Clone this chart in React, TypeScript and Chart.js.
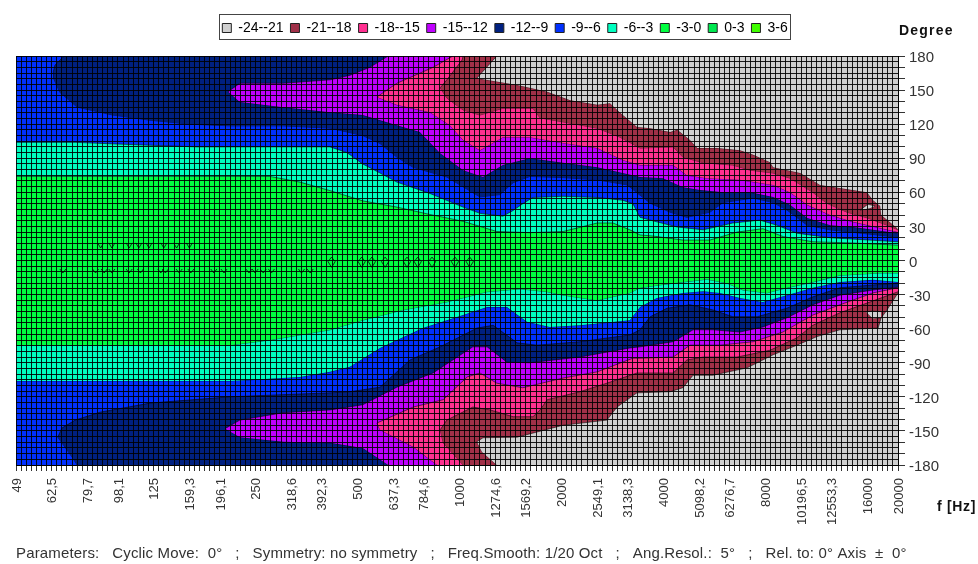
import React, { useEffect, useRef } from "react";
import { Chart, registerables } from "chart.js";

Chart.register(...registerables);

// x values are 1/20-octave frequency bins (bin 0 = 49 Hz, bin 173 = 20000 Hz)
const freqBins = [0, 7, 14, 20, 27, 34, 40, 47, 54, 60, 67, 74, 80, 87, 94, 100, 107, 114, 120, 127, 134, 140, 147, 154, 160, 167, 173];
const freqLabels = ["49", "62,5", "79,7", "98,1", "125", "159,3", "196,1", "250", "318,6", "392,3", "500", "637,3", "784,6", "1000", "1274,6", "1569,2", "2000", "2549,1", "3138,3", "4000", "5098,2", "6276,7", "8000", "10196,5", "12553,3", "16000", "20000"];

const legendNames = ["-24--21", "-21--18", "-18--15", "-15--12", "-12--9", "-9--6", "-6--3", "-3-0", "0-3", "3-6"];
const legendColors = ["#D0D0D0", "#A03048", "#FF3090", "#C000FF", "#002080", "#0030FF", "#00FFC0", "#00FF40", "#00E850", "#40FF00"];

const topEdge = [[0, 180], [173, 180]];
const bottomEdge = [[0, -180], [173, -180]];

const greenTop = [[0, 74], [7.3, 74], [20, 74], [33.5, 74], [49.8, 74], [55.7, 69], [61.6, 61.5], [68, 52.5], [74.7, 47], [81.2, 40.5], [87.7, 34.5], [94.3, 25.5], [100.8, 24.5], [107.3, 25.5], [114, 33], [117.1, 33], [120.4, 27], [122.4, 22.5], [125, 21.5], [130.8, 18], [136.1, 18], [141.4, 25], [146.5, 28], [150.5, 21], [156.3, 16.5], [163.6, 15.5], [173, 13.5]];
const greenLow = [[0, -74.5], [42, -74.5], [49.8, -70], [55.7, -65.5], [61.6, -61], [68, -52.5], [75.9, -43.5], [84.5, -36.5], [92.4, -27.5], [98.9, -25], [104.2, -27.5], [107.3, -30.5], [114, -35], [120.4, -28.5], [122.4, -24], [126.3, -21.5], [130.8, -19], [135.5, -16.5], [139.5, -20], [142.6, -26], [147.3, -28.5], [151.2, -24], [156.3, -19], [161.6, -13], [169.5, -11], [173, -11]];

const cyanTop = [[0, 104], [11.6, 104], [19.8, 102.5], [35.5, 100], [61.6, 100], [64.9, 95], [68, 85], [71.4, 77], [74.7, 69], [81.2, 59], [87.7, 47], [91, 41.5], [95.5, 39], [97.5, 44], [99.4, 50], [101.4, 55.5], [107.3, 56.5], [114, 55.5], [119, 53], [121, 50], [122.4, 38], [125.7, 34], [129.7, 29.5], [134.8, 27], [140.6, 33], [145.9, 35.5], [149.3, 31], [153.2, 24], [159.7, 20], [173, 16.5]];
const cyanLow = [[0, -106], [42, -106], [55.7, -102.5], [61.6, -98], [65.5, -93.5], [71.4, -77], [79.8, -59.5], [87.7, -48], [92.4, -41], [96.3, -41], [100.2, -54], [104.7, -58.5], [110.6, -57], [120.4, -52.5], [122.4, -41], [125.7, -33], [130.8, -28.5], [134.8, -27], [138.1, -28.5], [142, -33], [146.5, -36.5], [151.2, -30.5], [156.3, -24], [161.6, -19], [168.1, -17], [173, -19]];

const navyTopUpper = [[7.3, 166], [7.65, 172], [9.2, 179], [9.6, 180], [173, 180]];
const navyTopLower = [[7.3, 166], [7.4, 160], [8.6, 148], [12, 135], [19, 128], [26.3, 123.5], [34.1, 120], [42, 118.5], [52.4, 118.5], [61.6, 116.5], [68, 110], [71.4, 103], [74.7, 91], [77.9, 82], [84.5, 73.5], [91, 56], [94.9, 58], [97.5, 68.5], [100.8, 74], [107.3, 73], [114, 71], [119.9, 66.5], [122.4, 57.5], [124.4, 50.5], [128.3, 42.5], [131.6, 38], [136.1, 42.5], [138.7, 51], [144.6, 55], [148.5, 51], [151.2, 44.5], [155.2, 31], [159.7, 27], [173, 20.5]];
const navyLowUpper = [[8.2, -155.5], [9, -147.5], [11.6, -140.5], [16.5, -133.5], [26.3, -125.5], [42, -120], [55.7, -117.5], [61.6, -116.5], [65.5, -115.5], [71.4, -111.5], [77.3, -87.5], [83.2, -76], [90.4, -59.5], [93.6, -57], [98.3, -72.5], [102.2, -74.5], [110.6, -71.5], [120.4, -65.5], [122.4, -61], [124.4, -49.5], [127.7, -42], [132.2, -39], [136.7, -43.5], [140.6, -49.5], [145.4, -49.5], [151.2, -42], [156.3, -32], [161.6, -24], [168.1, -21.5], [173, -20]];
const navyLowLower = [[8.2, -155.5], [8.6, -158], [11, -173], [12, -180], [173, -180]];

const purpleTopUpper = [[41.6, 148.5], [43.9, 156], [52.4, 156], [61.6, 159], [65.5, 163], [69.4, 170], [73, 180], [173, 180]];
const purpleTopLower = [[41.6, 148.5], [43.9, 139.5], [52.4, 135], [61.6, 130.5], [68, 128], [74.7, 119], [79.2, 113], [83.2, 94.5], [87.7, 79.5], [91.6, 73.5], [95.5, 84], [100.8, 90], [107.3, 86], [114, 82], [122.4, 73.5], [126.9, 72.5], [130.8, 64.5], [134.2, 62], [138.7, 60], [144, 60], [148.5, 56], [151.8, 49], [155.2, 37.5], [159.7, 31], [164.2, 29.5], [173, 24]];
const purpleLowUpper = [[41, -148], [43.9, -140.5], [52.4, -134], [61.6, -131.5], [68, -127], [74.7, -111.5], [81.8, -99], [89.6, -76], [92.4, -76], [96.3, -89.5], [100.8, -90], [110.6, -85], [120.4, -77], [122.4, -76], [128.9, -71.5], [132.8, -61], [136.7, -61], [142, -63], [146.5, -58.5], [151.2, -50.5], [156.3, -39], [161.6, -30.5], [168.1, -26], [173, -23.5]];
const purpleLowLower = [[41, -148], [43.9, -155.5], [52.4, -159.5], [61.6, -160.5], [68, -165], [73, -180], [173, -180]];

const pinkTopUpper = [[70.8, 144], [74.7, 156], [81.8, 170], [85.7, 180], [173, 180]];
const pinkTopLower = [[70.8, 144], [74.7, 137], [81.2, 130.5], [85.1, 119], [87.7, 106], [91, 97], [95.5, 108.5], [100.8, 108.5], [107.3, 103.5], [114, 99], [119, 88.5], [122.4, 84], [128.9, 84], [131.6, 75], [135.5, 72.5], [142, 71], [148.5, 66.5], [151.8, 60], [155.2, 49], [159.7, 40], [164.2, 34], [173, 25]];
const pinkLowUpper = [[70.8, -143], [77.9, -129], [83.8, -122.5], [88.5, -102.5], [91, -99], [94.3, -108], [99.4, -112], [107.3, -103.5], [114, -98], [121, -86], [122.4, -86], [128.9, -85], [132.2, -74.5], [138.1, -74.5], [144.6, -71.5], [150.4, -63], [156.3, -48], [161.6, -39], [168.1, -28.5], [173, -24]];
const pinkLowLower = [[70.8, -143], [71.4, -149], [77.9, -164], [82.6, -180], [173, -180]];

const maroonTopUpper = [[83.2, 152], [84.5, 159], [87.5, 176.5], [87.7, 180], [173, 180]];
const maroonTopLower = [[83.2, 152], [84.5, 143], [87.7, 132.5], [91, 128], [95.5, 134], [101.4, 134], [102.8, 125.5], [107.3, 122], [114, 116.5], [118.5, 108.5], [122.4, 99], [128.9, 100], [130.8, 91], [134.8, 86], [140.6, 84], [144, 79.5], [148.5, 77], [151.8, 72.5], [156.3, 60], [159, 50.5], [163, 42.5], [167, 37.5], [170.9, 31], [173, 27]];
const maroonLowUpper = [[83.2, -149], [84.5, -140.5], [89.6, -129], [93, -131.5], [97.5, -137.5], [101.4, -137.5], [102.8, -131.5], [104.2, -122.5], [110.6, -115.5], [115.9, -108], [121.8, -99], [128.9, -99], [131.6, -87.5], [134.8, -85], [141.4, -85], [147.9, -79], [153.2, -68], [156.3, -57], [161.6, -46], [166.9, -37.5], [173, -27.5]];
const maroonLowLower = [[83.2, -149], [83.8, -160.5], [87.7, -180], [173, -180]];

const grayTopUpper = [[90.4, 160.5], [94.3, 180], [173, 180]];
const grayTopLower = [[90.4, 160.5], [98.3, 154.5], [104.2, 148.5], [108.7, 141], [114, 137], [116.5, 138.5], [118.5, 130], [121.8, 117.5], [124.4, 116.5], [128.3, 113], [129.7, 115], [132.2, 106], [133.6, 99], [137.5, 99], [142, 97], [144.6, 93], [147.9, 86.5], [148.5, 82], [153.8, 77], [157.7, 66.5], [166.9, 60], [168.1, 53], [169.5, 48], [169.7, 40], [172.8, 28.5], [173, 27]];
const grayLowUpper = [[90.4, -159.5], [91.6, -156], [98.3, -155.5], [107.3, -145], [115.9, -140.5], [117.9, -129], [121.8, -116.5], [128.3, -115.5], [130.8, -112], [132.8, -101], [136.7, -101], [143.4, -94.5], [148.5, -83], [153.2, -74.5], [157.1, -67], [161.6, -61], [169.1, -59.5], [169.7, -50.5], [170.7, -44.5], [173, -28.5]];
const grayLowLower = [[90.4, -159.5], [91.4, -168.5], [94.3, -180], [173, -180]];

const notchTopUpper = [[165.6, 44.5], [167.1, 49.5], [168.5, 48]];
const notchTopLower = [[165.6, 44.5], [167.5, 46], [168.5, 48]];
const notchLowUpper = [[166.7, -45], [168, -44.5], [169.7, -45]];
const notchLowLower = [[166.7, -45], [168, -51], [169.7, -50.5]];

// little closed contours of the 0 dB level inside the main lobe
const rippleUpperBins = [16.6, 18.8, 22.2, 24.1, 26.1, 29, 31.5, 34];
const rippleLowerBins = [9.2, 15.6, 17.3, 18.8, 22.2, 24.4, 28.4, 29.3, 32, 34.3, 38.8, 40.8, 45.7, 46.9, 48.5, 50.1, 56, 57.7];
const rippleLoopBins = [61.9, 67.8, 69.8, 72.4, 76.7, 78.8, 81.6, 86.1, 89];

const pts = (a: number[][]) => a.map(([x, y]) => ({ x, y }));

function band(color: string, upper: number[][], lower: number[][]) {
  const line = "rgba(0,0,0,0.55)";
  return [
    { data: pts(upper), fill: "+1", backgroundColor: color, borderColor: line, borderWidth: 1, pointRadius: 0, tension: 0 },
    { data: pts(lower), fill: false, borderColor: line, borderWidth: 1, pointRadius: 0, tension: 0 },
  ];
}

function ripples() {
  const out: { x: number; y: number | null }[] = [];
  rippleUpperBins.forEach((b) => out.push({ x: b - 0.6, y: 15.5 }, { x: b, y: 11 }, { x: b + 0.6, y: 15.5 }, { x: b + 0.6, y: null }));
  rippleLowerBins.forEach((b) => out.push({ x: b - 0.6, y: -7.5 }, { x: b, y: -11 }, { x: b + 0.6, y: -7.5 }, { x: b + 0.6, y: null }));
  rippleLoopBins.forEach((b) =>
    out.push({ x: b - 0.7, y: -1 }, { x: b, y: 3 }, { x: b + 0.7, y: -1 }, { x: b, y: -6 }, { x: b - 0.7, y: -1 }, { x: b, y: null })
  );
  return { data: out, fill: false, borderColor: "rgba(0,0,0,0.75)", borderWidth: 1, pointRadius: 0, tension: 0, spanGaps: false };
}

const framePlugin = {
  id: "frameAndNotes",
  afterLayout(chart: any) {
    chart.legend.left += 8;
    chart.legend.right += 8;
    chart.legend.top -= 11;
    chart.legend.bottom -= 11;
  },
  afterDraw(chart: any) {
    const c = chart.ctx;
    c.save();
    c.strokeStyle = "#444";
    c.lineWidth = 1;
    c.strokeRect(219.5, 14.5, 571, 25);
    c.fillStyle = "#111";
    c.textBaseline = "middle";
    c.textAlign = "left";
    c.font = "bold 14px 'Liberation Sans'";
    (c as any).letterSpacing = "1.2px";
    c.fillText("Degree", 899, 31);
    (c as any).letterSpacing = "0.7px";
    c.fillText("f [Hz]", 937, 507);
    c.fillStyle = "#333";
    c.font = "15px 'Liberation Sans'";
    (c as any).letterSpacing = "0.15px";
    c.fillText("Parameters:   Cyclic Move:  0°   ;   Symmetry: no symmetry   ;   Freq.Smooth: 1/20 Oct   ;   Ang.Resol.:  5°   ;   Rel. to: 0° Axis  ±  0°", 16, 554);
    c.restore();
  },
};

export default function App() {
  const ref = useRef<HTMLCanvasElement>(null);
  useEffect(() => {
    document.body.style.margin = "0";
    document.body.style.background = "#fff";
    const datasets: any[] = [
      ripples(),
      ...band(legendColors[0], notchLowUpper, notchLowLower),
      ...band(legendColors[0], notchTopUpper, notchTopLower),
      ...band(legendColors[0], grayLowUpper, grayLowLower),
      ...band(legendColors[0], grayTopUpper, grayTopLower),
      ...band(legendColors[1], maroonLowUpper, maroonLowLower),
      ...band(legendColors[1], maroonTopUpper, maroonTopLower),
      ...band(legendColors[2], pinkLowUpper, pinkLowLower),
      ...band(legendColors[2], pinkTopUpper, pinkTopLower),
      ...band(legendColors[3], purpleLowUpper, purpleLowLower),
      ...band(legendColors[3], purpleTopUpper, purpleTopLower),
      ...band(legendColors[4], navyLowUpper, navyLowLower),
      ...band(legendColors[4], navyTopUpper, navyTopLower),
      ...band(legendColors[7], greenTop, greenLow),
      ...band(legendColors[6], cyanTop, cyanLow),
      ...band(legendColors[5], topEdge, bottomEdge),
    ];
    const chart = new Chart(ref.current as HTMLCanvasElement, {
      type: "line",
      data: { datasets },
      plugins: [framePlugin],
      options: {
        animation: false,
        responsive: false,
        parsing: true,
        layout: { padding: { top: 25, left: 16, right: 0, bottom: 0 } },
        plugins: {
          tooltip: { enabled: false },
          legend: {
            display: true,
            position: "top",
            onClick: () => {},
            labels: {
              boxWidth: 9,
              boxHeight: 9,
              padding: 7,
              color: "#333",
              font: { family: "'Liberation Sans'", size: 14 },
              generateLabels: () =>
                legendNames.map((text, i) => ({
                  text,
                  fillStyle: legendColors[i],
                  strokeStyle: "#222",
                  lineWidth: 1,
                  hidden: false,
                  datasetIndex: i,
                })),
            },
          },
        },
        scales: {
          x: {
            type: "linear",
            min: 0,
            max: 173,
            afterFit: (s: any) => { s.height = 99; },
            ticks: {
              stepSize: 1,
              autoSkip: false,
              minRotation: 90,
              maxRotation: 90,
              padding: 7,
              labelOffset: 1,
              color: "#333",
              font: { family: "'Liberation Sans'", size: 13 },
              callback: (v: any) => {
                const i = freqBins.indexOf(Number(v));
                return i >= 0 ? freqLabels[i] : "";
              },
            },
            grid: { z: 1, color: "rgba(0,0,0,0.88)", lineWidth: 1, tickLength: 6, tickColor: "#333" },
            border: { display: true, color: "#000", z: 1 },
          },
          y: {
            type: "linear",
            position: "right",
            min: -180,
            max: 180,
            afterFit: (s: any) => { s.width = 80; },
            ticks: {
              stepSize: 5,
              autoSkip: false,
              padding: 4,
              labelOffset: 2,
              color: "#333",
              font: { family: "'Liberation Sans'", size: 15 },
              callback: (v: any) => (Number(v) % 30 === 0 ? String(v) : ""),
            },
            grid: {
              z: 1,
              color: "rgba(0,0,0,0.88)",
              lineWidth: 1,
              tickLength: 7,
              tickColor: (ctx: any) => (ctx.tick && ctx.tick.value % 10 === 0 ? "#333" : "transparent"),
            },
            border: { display: true, color: "#000", z: 1 },
          },
        },
      },
    } as any);
    return () => chart.destroy();
  }, []);
  return (
    <div style={{ width: 978, height: 564 }}>
      <canvas ref={ref} width={978} height={564} style={{ display: "block" }} />
    </div>
  );
}
